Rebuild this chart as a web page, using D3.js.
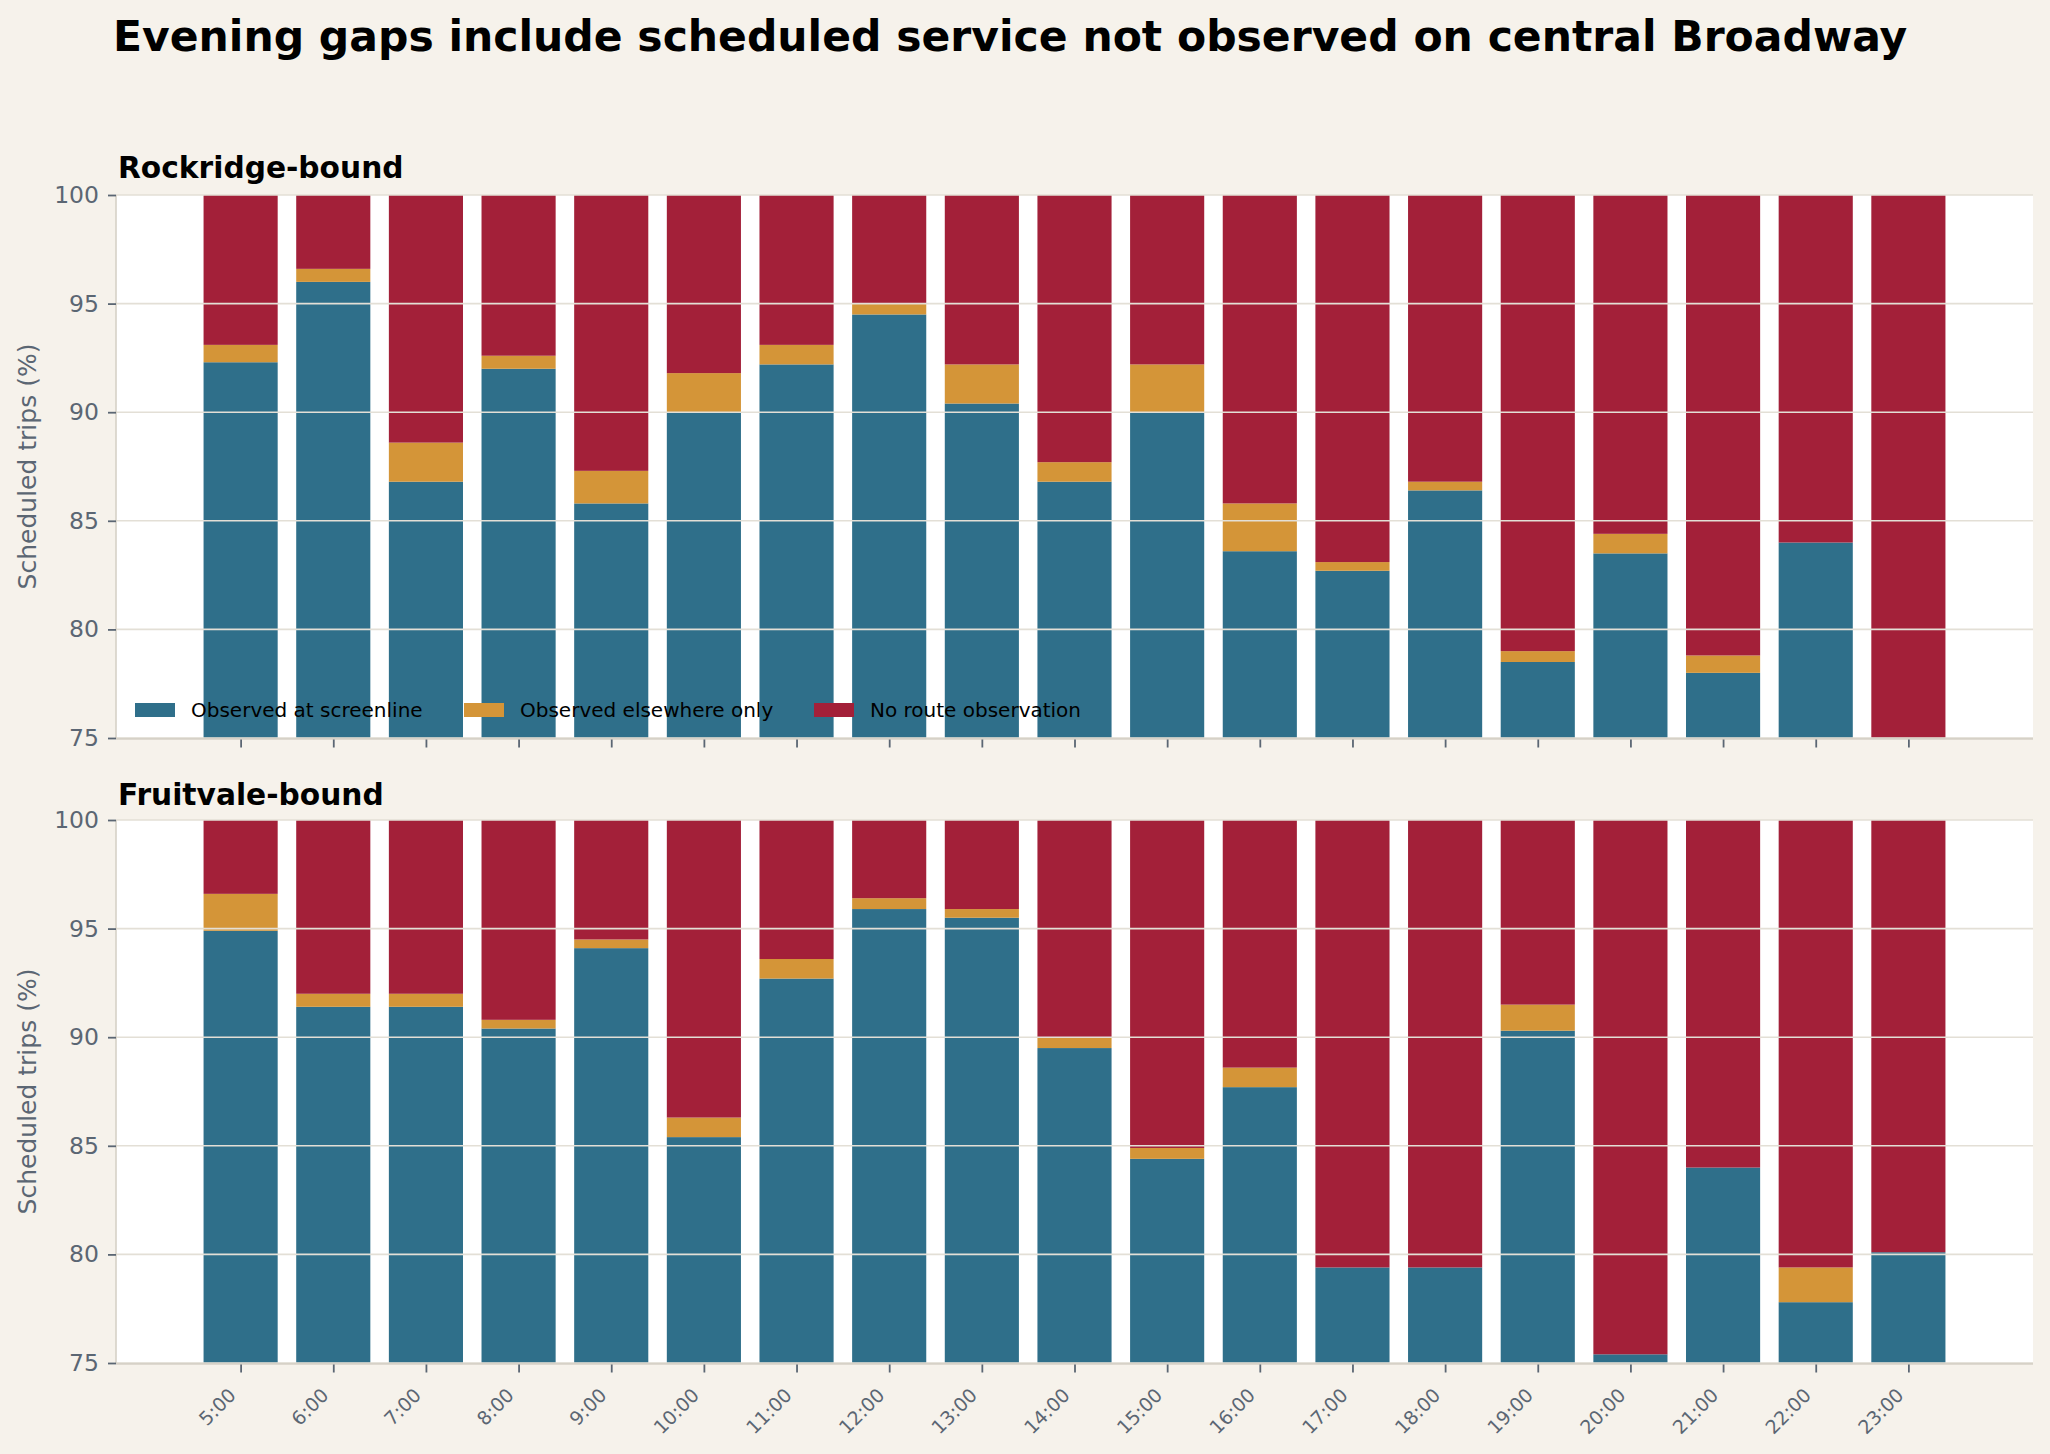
<!DOCTYPE html>
<meta charset="utf-8">
<script src="https://d3js.org/d3.v7.min.js"></script>
<style>
  body { margin: 0; background: #f6f2eb; }
  text { font-family: "DejaVu Sans", sans-serif; }
</style>
<div id="chart"></div>
<script>

// hours of the service day
var hours = ["5:00", "6:00", "7:00", "8:00", "9:00", "10:00", "11:00", "12:00", "13:00",
  "14:00", "15:00", "16:00", "17:00", "18:00", "19:00", "20:00", "21:00", "22:00", "23:00"];

// Rockridge-bound shares (% of scheduled trips)
var rockScreenline = [92.3, 96.0, 86.8, 92.0, 85.8, 90.0, 92.2, 94.5, 90.4, 86.8,
  90.0, 83.6, 82.7, 86.4, 78.5, 83.5, 78.0, 84.0, 72.7];
var rockElsewhere = [0.8, 0.6, 1.8, 0.6, 1.5, 1.8, 0.9, 0.5, 1.8, 0.9,
  2.2, 2.2, 0.4, 0.4, 0.5, 0.9, 0.8, 0.0, 0.0];
var rockNoObs = [6.9, 3.4, 11.4, 7.4, 12.7, 8.2, 6.9, 5.0, 7.8, 12.3,
  7.8, 14.2, 16.9, 13.2, 21.0, 15.6, 21.2, 16.0, 27.3];

// Fruitvale-bound shares
var fruitScreenline = [94.9, 91.4, 91.4, 90.4, 94.1, 85.4, 92.7, 95.9, 95.5, 89.5,
  84.4, 87.7, 79.4, 79.4, 90.3, 75.4, 84.0, 77.8, 80.1];
var fruitElsewhere = [1.7, 0.6, 0.6, 0.4, 0.4, 0.9, 0.9, 0.5, 0.4, 0.5,
  0.5, 0.9, 0.0, 0.0, 1.2, 0.0, 0.0, 1.6, 0.0];
var fruitNoObs = [3.4, 8.0, 8.0, 9.2, 5.5, 13.7, 6.4, 3.6, 4.1, 10.0,
  15.1, 11.4, 20.6, 20.6, 8.5, 24.6, 16.0, 20.6, 19.9];

var seriesKeys = ["screenline", "elsewhere", "noobs"];
var seriesLabels = ["Observed at screenline", "Observed elsewhere only", "No route observation"];
var seriesColors = ["#2f6f8a", "#d49538", "#a32039"];

var yTicks = [75, 80, 85, 90, 95, 100];

var W = 2050, H = 1454;
var left = 116, right = 2033;

var svg = d3.select("#chart")
  .append("svg")
    .attr("width", W)
    .attr("height", H)
    .style("background", "#f6f2eb");

svg.append("text")
    .attr("x", 113)
    .attr("y", 51)
    .style("font-size", "42.5px")
    .style("font-weight", "bold")
    .attr("fill", "#000")
    .text("Evening gaps include scheduled service not observed on central Broadway");

var x = d3.scaleLinear()
    .domain([-1.345, hours.length - 1 + 1.345])
    .range([left, right]);
var step = x(1) - x(0);
var barW = step * 0.8;

function makeRows(a, b, c) {
  return hours.map(function(h, i) {
    return { hour: h, screenline: a[i], elsewhere: b[i], noobs: c[i] };
  });
}

var panels = [
  { title: "Rockridge-bound", top: 195, bottom: 738, rows: makeRows(rockScreenline, rockElsewhere, rockNoObs), legend: true, titleY: 178 },
  { title: "Fruitvale-bound", top: 820, bottom: 1363, rows: makeRows(fruitScreenline, fruitElsewhere, fruitNoObs), legend: false, titleY: 805 }
];

var stack = d3.stack().keys(seriesKeys);

panels.forEach(function(p, pi) {
  var y = d3.scaleLinear().domain([75, 100]).range([p.bottom, p.top]);
  var g = svg.append("g");

  g.append("rect")
      .attr("x", left).attr("y", p.top)
      .attr("width", right - left).attr("height", p.bottom - p.top)
      .attr("fill", "#fff");

  var clipId = "clip" + pi;
  svg.append("clipPath").attr("id", clipId)
    .append("rect")
      .attr("x", left).attr("y", p.top)
      .attr("width", right - left).attr("height", p.bottom - p.top);

  var layers = stack(p.rows);
  g.append("g")
      .attr("clip-path", "url(#" + clipId + ")")
    .selectAll("g")
    .data(layers)
    .enter()
    .append("g")
      .attr("fill", function(d, i) { return seriesColors[i]; })
    .selectAll("rect")
    .data(function(d) { return d; })
    .enter()
    .append("rect")
      .attr("x", function(d, i) { return x(i) - barW / 2; })
      .attr("width", barW)
      .attr("y", function(d) { return y(d[1]); })
      .attr("height", function(d) { return Math.max(0, y(d[0]) - y(d[1])); });

  // grid lines sit over the bars
  g.append("g")
    .selectAll("line")
    .data(yTicks)
    .enter()
    .append("line")
      .attr("x1", left).attr("x2", right)
      .attr("y1", function(d) { return y(d); })
      .attr("y2", function(d) { return y(d); })
      .attr("stroke", "#e3dfd6")
      .attr("stroke-width", 1.6);

  // spines
  g.append("line")
      .attr("x1", left).attr("x2", left)
      .attr("y1", p.top).attr("y2", p.bottom)
      .attr("stroke", "#d6d1c7").attr("stroke-width", 1.6);
  g.append("line")
      .attr("x1", left).attr("x2", right)
      .attr("y1", p.bottom + 0.8).attr("y2", p.bottom + 0.8)
      .attr("stroke", "#d6d1c7").attr("stroke-width", 2);

  // y axis
  var yAxis = d3.axisLeft(y).tickValues(yTicks).tickSize(8).tickPadding(9);
  var ya = g.append("g")
      .attr("transform", "translate(" + left + ",0)")
      .call(yAxis);
  ya.select(".domain").remove();
  ya.selectAll(".tick line").attr("stroke", "#5b6673").attr("stroke-width", 1.8);
  ya.selectAll(".tick text")
      .attr("fill", "#5b6673")
      .style("font-size", "23.5px")
      .style("font-family", "DejaVu Sans, sans-serif");

  // x axis
  var xAxis = d3.axisBottom(x).tickValues(d3.range(hours.length)).tickSize(8)
      .tickFormat(function(i) { return pi === 1 ? hours[i] : ""; });
  var xa = g.append("g")
      .attr("transform", "translate(0," + (p.bottom + 1.5) + ")")
      .call(xAxis);
  xa.select(".domain").remove();
  xa.selectAll(".tick line").attr("stroke", "#5b6673").attr("stroke-width", 1.8);
  xa.selectAll(".tick text")
      .attr("fill", "#5b6673")
      .style("font-size", "19px")
      .style("font-family", "DejaVu Sans, sans-serif")
      .attr("text-anchor", "end")
      .attr("y", 0).attr("dy", 0)
      .attr("transform", "translate(-4,32) rotate(-45)");

  svg.append("text")
      .attr("transform", "translate(36," + ((p.top + p.bottom) / 2) + ") rotate(-90)")
      .attr("text-anchor", "middle")
      .attr("fill", "#5b6673")
      .style("font-size", "25px")
      .text("Scheduled trips (%)");

  svg.append("text")
      .attr("x", 118)
      .attr("y", p.titleY)
      .style("font-size", "29.7px")
      .style("font-weight", "bold")
      .attr("fill", "#000")
      .text(p.title);

  if (p.legend) {
    var legendX = [135, 464, 814];
    var lg = g.append("g")
      .selectAll("g")
      .data(seriesLabels)
      .enter()
      .append("g")
        .attr("transform", function(d, i) { return "translate(" + legendX[i] + ",710)"; });
    lg.append("rect")
        .attr("x", 0).attr("y", -7)
        .attr("width", 40).attr("height", 14)
        .attr("fill", function(d, i) { return seriesColors[i]; });
    lg.append("text")
        .attr("x", 56).attr("y", 0).attr("dy", "0.35em")
        .style("font-size", "20px")
        .attr("fill", "#000")
        .text(function(d) { return d; });
  }
});

</script>
